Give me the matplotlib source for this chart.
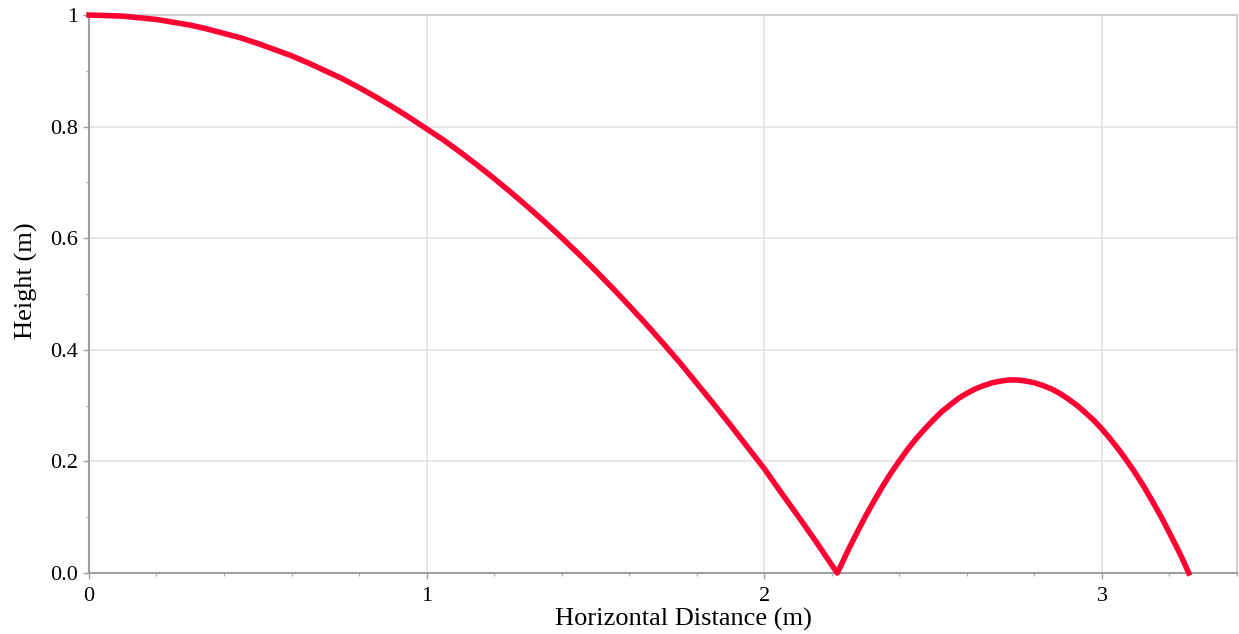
import numpy as np
import matplotlib.pyplot as plt
from matplotlib.ticker import MultipleLocator

# trajectory: first fall, then one bounce
fall_x = [0.0, 0.05, 0.1, 0.15, 0.2, 0.25, 0.3, 0.35, 0.4, 0.45, 0.5, 0.55,
          0.6, 0.65, 0.7, 0.75, 0.8, 0.85, 0.9, 0.95, 1.0, 1.05, 1.1, 1.15,
          1.2, 1.25, 1.3, 1.35, 1.4, 1.45, 1.5, 1.55, 1.6, 1.65, 1.7, 1.75,
          1.8, 1.85, 1.9, 1.95, 2.0, 2.05, 2.1, 2.15, 2.216]
fall_y = [1.000, 0.999, 0.998, 0.995, 0.992, 0.987, 0.982, 0.975, 0.967,
          0.959, 0.949, 0.938, 0.927, 0.914, 0.900, 0.886, 0.870, 0.853,
          0.835, 0.816, 0.796, 0.776, 0.754, 0.731, 0.707, 0.682, 0.656,
          0.629, 0.601, 0.572, 0.542, 0.511, 0.479, 0.446, 0.412, 0.377,
          0.340, 0.303, 0.265, 0.226, 0.187, 0.144, 0.102, 0.059, 0.0]
bounce_x = [2.216, 2.225, 2.25, 2.275, 2.30, 2.325, 2.35, 2.375, 2.40, 2.425,
            2.45, 2.475, 2.50, 2.525, 2.55, 2.575, 2.60, 2.625, 2.65, 2.675,
            2.70, 2.725, 2.75, 2.775, 2.80, 2.825, 2.85, 2.875, 2.90, 2.925,
            2.95, 2.975, 3.00, 3.025, 3.05, 3.075, 3.10, 3.125, 3.15, 3.175,
            3.20, 3.225, 3.24, 3.257]
bounce_y = [0.0, 0.011, 0.043, 0.073, 0.102, 0.129, 0.155, 0.179, 0.201,
            0.222, 0.241, 0.258, 0.274, 0.289, 0.301, 0.313, 0.322, 0.330,
            0.336, 0.341, 0.344, 0.346, 0.346, 0.344, 0.341, 0.336, 0.330,
            0.322, 0.312, 0.301, 0.288, 0.274, 0.258, 0.240, 0.221, 0.200,
            0.178, 0.154, 0.128, 0.101, 0.072, 0.042, 0.023, 0.0]

x_ticks = [0, 1, 2, 3]
y_ticks = [0.0, 0.2, 0.4, 0.6, 0.8, 1.0]
y_labels = ['0.0', '0.2', '0.4', '0.6', '0.8', '1']

plt.rcParams['font.family'] = ['Liberation Serif', 'DejaVu Serif']

fig = plt.figure(figsize=(12.39, 6.34), dpi=100)
ax = fig.add_axes([0.0718, 0.0962, 0.9266, 0.8801])

xs = np.array(fall_x + bounce_x[1:])
ys = np.array(fall_y + bounce_y[1:])
ax.plot(xs, ys, color='#ff0033', lw=4, solid_joinstyle='round', zorder=3, clip_on=False)

ax.set_xlim(0, 3.4)
ax.set_ylim(0, 1)
ax.set_xticks(x_ticks)
ax.set_xticklabels([str(t) for t in x_ticks])
ax.set_yticks(y_ticks)
ax.set_yticklabels(y_labels)
ax.xaxis.set_minor_locator(MultipleLocator(0.2))
ax.yaxis.set_minor_locator(MultipleLocator(0.1))

ax.grid(True, which='major', color='#e3e3e3', lw=1.2)
ax.set_axisbelow(True)

for side in ['top', 'right']:
    ax.spines[side].set_color('#cfcfcf')
    ax.spines[side].set_linewidth(1.5)
for side in ['left', 'bottom']:
    ax.spines[side].set_color('#a0a0a0')
    ax.spines[side].set_linewidth(1.5)

ax.tick_params(which='major', length=4, width=1, color='#a0a0a0', labelsize=16, labelcolor='black')
ax.tick_params(which='minor', length=2.5, width=1, color='#b0b0b0')
ax.tick_params(axis='y', pad=4)
ax.tick_params(axis='x', pad=6)

ax.set_xlabel('Horizontal Distance (m)', fontsize=19)
ax.set_ylabel('Height (m)', fontsize=19)
ax.xaxis.set_label_coords(0.5174, -0.063)
ax.yaxis.set_label_coords(-0.044, 0.523)

fig.savefig('out.png', dpi=100)
